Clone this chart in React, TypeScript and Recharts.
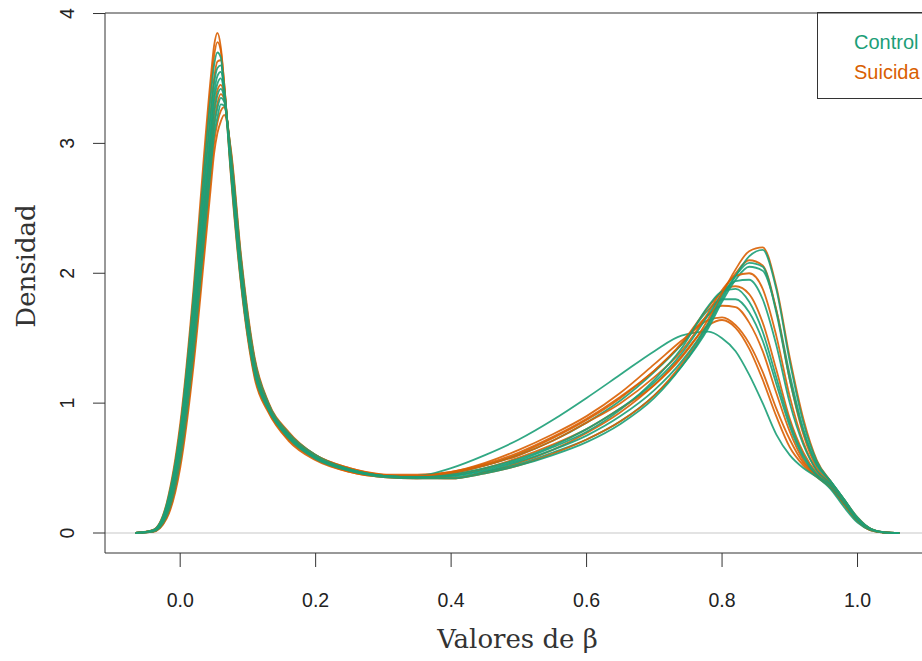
import React from 'react';
import { LineChart, Line, XAxis, YAxis, ReferenceLine } from 'recharts';

const GREEN = '#1b9e77';
const ORANGE = '#d95f02';

const betaX = [
  -0.066, -0.04, -0.02, 0, 0.02, 0.035, 0.045, 0.05, 0.055, 0.06, 0.065, 0.075, 0.09, 0.11,
  0.13, 0.16, 0.2, 0.25, 0.3, 0.35, 0.4, 0.45, 0.5, 0.55, 0.6, 0.65, 0.7, 0.74, 0.78, 0.8,
  0.82, 0.84, 0.86, 0.88, 0.9, 0.92, 0.94, 0.96, 0.98, 1.0, 1.02, 1.04, 1.062,
];

const control1 = [0, 0.01, 0.13, 0.56, 1.4, 2.24, 2.8, 3.06, 3.2, 3.3, 3.29, 2.92, 2.1, 1.33, 1.0, 0.77, 0.6, 0.49, 0.44, 0.44, 0.5, 0.6, 0.72, 0.87, 1.04, 1.22, 1.4, 1.52, 1.55, 1.5, 1.4, 1.22, 1.0, 0.76, 0.6, 0.5, 0.43, 0.34, 0.2, 0.08, 0.02, 0.003, 0];
const control2 = [0, 0.022, 0.22, 0.8, 1.84, 2.78, 3.36, 3.6, 3.7, 3.66, 3.42, 2.76, 1.92, 1.22, 0.95, 0.73, 0.57, 0.48, 0.43, 0.42, 0.42, 0.46, 0.52, 0.6, 0.7, 0.84, 1.04, 1.28, 1.6, 1.8, 1.98, 2.13, 2.18, 1.88, 1.32, 0.85, 0.55, 0.4, 0.26, 0.12, 0.03, 0.005, 0];
const control3 = [0, 0.02, 0.2, 0.75, 1.74, 2.65, 3.22, 3.46, 3.58, 3.6, 3.42, 2.8, 1.97, 1.25, 0.96, 0.74, 0.58, 0.48, 0.44, 0.43, 0.44, 0.48, 0.55, 0.64, 0.75, 0.9, 1.1, 1.32, 1.62, 1.82, 1.98, 2.08, 2.05, 1.7, 1.18, 0.78, 0.52, 0.4, 0.26, 0.11, 0.03, 0.004, 0];
const control4 = [0, 0.018, 0.18, 0.7, 1.64, 2.55, 3.12, 3.38, 3.52, 3.55, 3.41, 2.83, 1.99, 1.25, 0.96, 0.74, 0.58, 0.48, 0.44, 0.43, 0.45, 0.5, 0.57, 0.67, 0.8, 0.96, 1.16, 1.38, 1.68, 1.84, 1.94, 1.95, 1.8, 1.45, 1.0, 0.68, 0.48, 0.38, 0.24, 0.1, 0.025, 0.004, 0];
const control5 = [0, 0.016, 0.17, 0.67, 1.6, 2.5, 3.07, 3.33, 3.46, 3.5, 3.39, 2.84, 2.0, 1.27, 0.97, 0.75, 0.58, 0.49, 0.44, 0.43, 0.44, 0.49, 0.56, 0.66, 0.78, 0.95, 1.18, 1.42, 1.75, 1.86, 1.88, 1.78, 1.55, 1.2, 0.85, 0.6, 0.45, 0.37, 0.24, 0.1, 0.025, 0.004, 0];
const control6 = [0, 0.013, 0.15, 0.63, 1.52, 2.4, 2.96, 3.22, 3.37, 3.42, 3.35, 2.87, 2.03, 1.28, 0.97, 0.75, 0.59, 0.49, 0.44, 0.43, 0.43, 0.47, 0.53, 0.62, 0.72, 0.86, 1.06, 1.28, 1.58, 1.78, 1.95, 2.05, 2.02, 1.72, 1.22, 0.8, 0.53, 0.4, 0.26, 0.11, 0.03, 0.004, 0];
const control7 = [0, 0.012, 0.14, 0.6, 1.46, 2.3, 2.86, 3.12, 3.27, 3.35, 3.32, 2.89, 2.06, 1.3, 0.98, 0.76, 0.59, 0.49, 0.44, 0.43, 0.46, 0.52, 0.6, 0.71, 0.85, 1.02, 1.24, 1.45, 1.72, 1.8, 1.8, 1.7, 1.48, 1.15, 0.82, 0.58, 0.44, 0.36, 0.23, 0.1, 0.025, 0.004, 0];

const suicida1 = [0, 0.024, 0.23, 0.84, 1.9, 2.9, 3.5, 3.75, 3.85, 3.74, 3.46, 2.74, 1.9, 1.19, 0.93, 0.71, 0.56, 0.47, 0.43, 0.42, 0.42, 0.46, 0.52, 0.61, 0.72, 0.86, 1.06, 1.3, 1.62, 1.84, 2.03, 2.17, 2.2, 1.9, 1.35, 0.88, 0.56, 0.4, 0.26, 0.12, 0.03, 0.005, 0];
const suicida2 = [0, 0.022, 0.21, 0.8, 1.83, 2.8, 3.42, 3.67, 3.78, 3.71, 3.46, 2.78, 1.93, 1.21, 0.94, 0.72, 0.57, 0.47, 0.43, 0.42, 0.45, 0.5, 0.58, 0.68, 0.8, 0.96, 1.14, 1.35, 1.65, 1.85, 2.0, 2.1, 2.06, 1.72, 1.18, 0.76, 0.5, 0.39, 0.25, 0.11, 0.03, 0.004, 0];
const suicida3 = [0, 0.02, 0.19, 0.74, 1.72, 2.66, 3.25, 3.5, 3.63, 3.64, 3.44, 2.8, 1.96, 1.24, 0.95, 0.73, 0.57, 0.48, 0.44, 0.43, 0.46, 0.52, 0.6, 0.71, 0.85, 1.0, 1.2, 1.4, 1.7, 1.87, 1.98, 2.0, 1.88, 1.52, 1.05, 0.7, 0.48, 0.38, 0.24, 0.1, 0.025, 0.004, 0];
const suicida4 = [0, 0.014, 0.16, 0.64, 1.55, 2.44, 3.0, 3.26, 3.41, 3.45, 3.37, 2.86, 2.02, 1.28, 0.97, 0.75, 0.59, 0.49, 0.44, 0.44, 0.47, 0.53, 0.62, 0.74, 0.88, 1.05, 1.25, 1.46, 1.74, 1.86, 1.9, 1.84, 1.62, 1.26, 0.88, 0.62, 0.46, 0.37, 0.24, 0.1, 0.025, 0.004, 0];
const suicida5 = [0, 0.012, 0.14, 0.6, 1.48, 2.34, 2.9, 3.15, 3.31, 3.38, 3.34, 2.88, 2.05, 1.3, 0.98, 0.76, 0.59, 0.49, 0.44, 0.43, 0.46, 0.52, 0.61, 0.73, 0.87, 1.04, 1.25, 1.45, 1.68, 1.75, 1.74, 1.62, 1.4, 1.08, 0.78, 0.56, 0.44, 0.36, 0.23, 0.1, 0.025, 0.004, 0];
const suicida6 = [0, 0.01, 0.12, 0.54, 1.36, 2.18, 2.74, 3.0, 3.16, 3.25, 3.28, 2.93, 2.1, 1.33, 1.0, 0.77, 0.6, 0.5, 0.45, 0.45, 0.47, 0.54, 0.64, 0.76, 0.9, 1.08, 1.3, 1.48, 1.64, 1.66, 1.6, 1.46, 1.24, 0.96, 0.72, 0.54, 0.44, 0.35, 0.22, 0.09, 0.02, 0.003, 0];
const suicida7 = [0, 0.008, 0.11, 0.5, 1.3, 2.1, 2.65, 2.92, 3.08, 3.17, 3.22, 2.95, 2.13, 1.35, 1.01, 0.78, 0.6, 0.5, 0.45, 0.43, 0.42, 0.47, 0.54, 0.64, 0.77, 0.93, 1.14, 1.36, 1.6, 1.64, 1.58, 1.42, 1.18, 0.9, 0.66, 0.52, 0.43, 0.35, 0.22, 0.09, 0.02, 0.003, 0];

const xTicks = [0, 0.2, 0.4, 0.6, 0.8, 1.0];
const yTicks = [0, 1, 2, 3, 4];

// drawing order: mostly interleaved, greens tend to sit on top
const series = [
  { key: 's7', values: suicida7, color: ORANGE },
  { key: 's6', values: suicida6, color: ORANGE },
  { key: 'c1', values: control1, color: GREEN },
  { key: 's5', values: suicida5, color: ORANGE },
  { key: 'c7', values: control7, color: GREEN },
  { key: 's4', values: suicida4, color: ORANGE },
  { key: 'c6', values: control6, color: GREEN },
  { key: 's3', values: suicida3, color: ORANGE },
  { key: 'c5', values: control5, color: GREEN },
  { key: 's2', values: suicida2, color: ORANGE },
  { key: 'c4', values: control4, color: GREEN },
  { key: 's1', values: suicida1, color: ORANGE },
  { key: 'c3', values: control3, color: GREEN },
  { key: 'c2', values: control2, color: GREEN },
];

const rows = betaX.map((x, i) => {
  const row: { [key: string]: number } = { x };
  series.forEach((s) => {
    row[s.key] = s.values[i];
  });
  return row;
});

const SANS = '"Liberation Sans", Arial, sans-serif';
const SERIF = '"DejaVu Serif", serif';

const YTick = (props: any) => {
  const { x, y, payload } = props;
  const tx = x - 17;
  return (
    <text
      x={tx}
      y={y}
      transform={`rotate(-90 ${tx} ${y})`}
      textAnchor="middle"
      fontSize={19.5}
      fontFamily={SANS}
      fill="#222"
    >
      {payload.value}
    </text>
  );
};

export default function App() {
  return (
    <div style={{ position: 'absolute', left: 0, top: 0, width: 922, height: 661, overflow: 'hidden', background: '#fff' }}>
      <LineChart
        width={940}
        height={661}
        data={rows}
        margin={{ top: 13, right: 10, left: 0, bottom: 0 }}
      >
        <XAxis
          dataKey="x"
          type="number"
          domain={[-0.111, 1.107]}
          ticks={xTicks}
          allowDataOverflow
          height={108}
          tickSize={14}
          tickMargin={26}
          stroke="#333"
          tick={{ fontSize: 19.5, fill: '#222', fontFamily: SANS }}
          tickFormatter={(v: number) => v.toFixed(1)}
          label={{
            content: (p: any) => (
              <text
                x={p.viewBox.x + p.viewBox.width / 2}
                y={648}
                textAnchor="middle"
                fontSize={26}
                fontFamily={SERIF}
                fill="#333"
              >
                Valores de β
              </text>
            ),
          }}
        />
        <YAxis
          type="number"
          domain={[-0.154, 4.004]}
          ticks={yTicks}
          allowDataOverflow
          width={105}
          tickSize={12}
          stroke="#333"
          tick={<YTick />}
          label={{
            content: () => (
              <text
                x={35}
                y={266}
                transform="rotate(-90 35 266)"
                textAnchor="middle"
                fontSize={26}
                fontFamily={SERIF}
                fill="#333"
              >
                Densidad
              </text>
            ),
          }}
        />
        <ReferenceLine y={0} stroke="#c8c8c8" strokeWidth={1.2} />
        <ReferenceLine y={4.004} stroke="#333" />
        <ReferenceLine x={1.107} stroke="#333" />
        {series.map((s) => (
          <Line
            key={s.key}
            dataKey={s.key}
            type="monotone"
            stroke={s.color}
            strokeWidth={1.8}
            strokeOpacity={0.9}
            dot={false}
            activeDot={false}
            isAnimationActive={false}
          />
        ))}
      </LineChart>
      <div
        style={{
          position: 'absolute',
          left: 817,
          top: 12,
          width: 140,
          height: 87,
          border: '1.4px solid #333',
          fontFamily: SANS,
          fontSize: 20,
          lineHeight: '30px',
          paddingTop: 14,
          paddingLeft: 36,
          boxSizing: 'border-box',
        }}
      >
        <div style={{ color: GREEN }}>Control</div>
        <div style={{ color: ORANGE }}>Suicida</div>
      </div>
    </div>
  );
}
